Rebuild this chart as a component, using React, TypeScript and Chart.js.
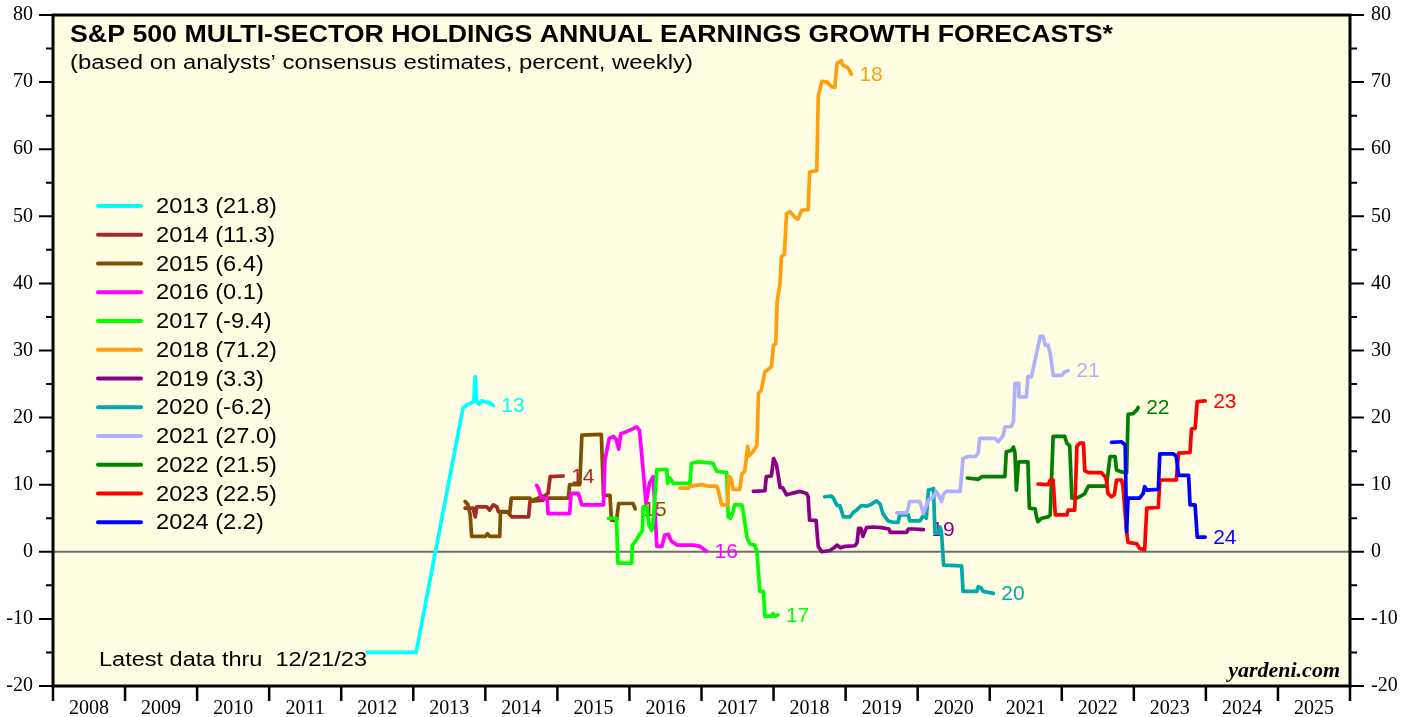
import React, { useEffect, useRef } from 'react';
import { Chart, registerables } from 'chart.js';

Chart.register(...registerables);

// ---------- data ----------
const yearLabels = ['2008', '2009', '2010', '2011', '2012', '2013', '2014', '2015', '2016', '2017', '2018', '2019', '2020', '2021', '2022', '2023', '2024', '2025'];
const yMajorTicks = [-20, -10, 0, 10, 20, 30, 40, 50, 60, 70, 80];
const yMinorTicks = [-15, -5, 5, 15, 25, 35, 45, 55, 65, 75];

const seriesNames = ['2013', '2014', '2015', '2016', '2017', '2018', '2019', '2020', '2021', '2022', '2023', '2024'];
const seriesLatest = [21.8, 11.3, 6.4, 0.1, -9.4, 71.2, 3.3, -6.2, 27.0, 21.5, 22.5, 2.2];
const seriesColors = ['#00FFFF', '#A52A2A', '#805000', '#FF00FF', '#00FF00', '#FF9F10', '#8B008B', '#00AAAA', '#B0B0FF', '#008000', '#FF0000', '#0000FF'];

const f2013 = [[2012.36, -15], [2013.04, -15], [2013.69, 21.4], [2013.74, 21.9], [2013.79, 22.1], [2013.84, 22.4], [2013.86, 26.1], [2013.88, 22.4], [2013.91, 22.0], [2013.95, 22.5], [2014.02, 22.3], [2014.06, 22.2], [2014.11, 21.8]];
const f2014 = [[2013.72, 6.5], [2013.83, 6.5], [2013.86, 5.2], [2013.88, 6.7], [2014.02, 6.7], [2014.06, 6.2], [2014.11, 7.0], [2014.16, 6.7], [2014.18, 6.0], [2014.30, 6.0], [2014.37, 5.2], [2014.60, 5.2], [2014.62, 7.5], [2014.80, 7.7], [2014.83, 8.4], [2014.87, 8.7], [2014.90, 11.2], [2015.08, 11.3]];
const f2015 = [[2013.72, 7.5], [2013.76, 7.0], [2013.79, 5.5], [2013.81, 2.3], [2014.00, 2.3], [2014.03, 2.7], [2014.06, 2.3], [2014.20, 2.3], [2014.21, 5.9], [2014.34, 5.9], [2014.36, 8.0], [2014.62, 8.0], [2014.64, 7.6], [2014.80, 8.3], [2014.85, 8.0], [2015.15, 8.0], [2015.17, 10.0], [2015.31, 10.0], [2015.34, 17.4], [2015.61, 17.5], [2015.64, 8.4], [2015.73, 8.4], [2015.75, 4.7], [2015.82, 4.6], [2015.85, 7.2], [2016.05, 7.2], [2016.08, 6.4]];
const f2016 = [[2014.71, 9.9], [2014.74, 9.4], [2014.77, 8.2], [2014.86, 7.8], [2014.87, 5.7], [2015.17, 5.7], [2015.19, 8.7], [2015.29, 8.7], [2015.34, 7.0], [2015.64, 7.0], [2015.66, 13.7], [2015.72, 16.9], [2015.78, 17.2], [2015.82, 16.7], [2015.85, 15.3], [2015.88, 17.6], [2015.96, 17.9], [2016.06, 18.4], [2016.10, 18.6], [2016.14, 18.1], [2016.19, 12.2], [2016.23, 7.2], [2016.28, 10.3], [2016.33, 11.2], [2016.36, 5.0], [2016.38, 0.8], [2016.45, 0.8], [2016.49, 2.5], [2016.54, 2.6], [2016.58, 1.6], [2016.66, 1.0], [2016.89, 1.0], [2016.98, 0.8], [2017.07, 0.1]];
const f2017 = [[2015.71, 5.0], [2015.82, 5.0], [2015.84, -1.7], [2016.03, -1.7], [2016.04, 1.0], [2016.08, 1.5], [2016.12, 2.2], [2016.15, 2.7], [2016.18, 3.2], [2016.19, 6.7], [2016.24, 6.7], [2016.27, 4.0], [2016.31, 3.2], [2016.33, 4.5], [2016.38, 12.2], [2016.52, 12.3], [2016.53, 10.2], [2016.56, 11.0], [2016.61, 10.2], [2016.84, 10.2], [2016.86, 13.2], [2016.96, 13.4], [2017.16, 13.2], [2017.21, 12.0], [2017.35, 11.8], [2017.37, 5.2], [2017.40, 5.0], [2017.44, 6.0], [2017.46, 7.0], [2017.56, 7.0], [2017.58, 6.0], [2017.63, 2.2], [2017.67, 1.2], [2017.74, 1.0], [2017.77, 0.0], [2017.81, -5.9], [2017.86, -5.9], [2017.88, -9.6], [2017.97, -9.6], [2017.99, -9.2], [2018.02, -9.6], [2018.06, -9.4]];
const f2018 = [[2016.70, 9.5], [2016.82, 9.5], [2016.84, 9.8], [2017.02, 10.0], [2017.08, 9.8], [2017.21, 9.8], [2017.23, 9.3], [2017.28, 7.0], [2017.36, 7.0], [2017.38, 11.2], [2017.41, 11.0], [2017.44, 9.3], [2017.53, 9.3], [2017.56, 11.6], [2017.60, 12.0], [2017.64, 15.7], [2017.66, 14.3], [2017.72, 15.0], [2017.77, 15.9], [2017.79, 23.6], [2017.83, 24.1], [2017.88, 26.8], [2017.97, 27.6], [2018.00, 30.8], [2018.03, 31.0], [2018.05, 37.3], [2018.09, 40.0], [2018.11, 44.0], [2018.15, 44.3], [2018.18, 50.4], [2018.23, 50.7], [2018.30, 49.8], [2018.34, 49.6], [2018.39, 50.9], [2018.48, 51.0], [2018.50, 56.6], [2018.60, 56.8], [2018.62, 67.8], [2018.67, 70.1], [2018.74, 70.0], [2018.81, 69.3], [2018.85, 69.2], [2018.88, 72.8], [2018.94, 73.2], [2018.96, 72.5], [2019.01, 72.3], [2019.04, 72.0], [2019.08, 71.2]];
const f2019 = [[2017.72, 9.0], [2017.88, 9.1], [2017.90, 11.2], [2017.97, 11.3], [2018.00, 13.9], [2018.04, 13.0], [2018.07, 11.1], [2018.09, 9.6], [2018.13, 9.5], [2018.18, 8.5], [2018.25, 8.7], [2018.37, 9.0], [2018.46, 8.7], [2018.48, 8.2], [2018.50, 4.7], [2018.59, 4.7], [2018.62, 0.8], [2018.67, 0.0], [2018.78, 0.2], [2018.84, 0.6], [2018.88, 1.0], [2018.93, 0.6], [2018.99, 0.8], [2019.13, 0.9], [2019.16, 1.4], [2019.18, 3.5], [2019.21, 3.5], [2019.24, 2.3], [2019.29, 3.6], [2019.38, 3.7], [2019.50, 3.6], [2019.60, 3.4], [2019.62, 2.9], [2019.85, 2.9], [2019.87, 3.4], [2019.95, 3.4], [2020.08, 3.3]];
const f2020 = [[2018.71, 8.2], [2018.80, 8.3], [2018.83, 8.0], [2018.88, 6.9], [2018.92, 6.9], [2018.94, 6.2], [2018.97, 5.2], [2019.06, 5.2], [2019.11, 5.9], [2019.15, 6.2], [2019.22, 6.9], [2019.29, 6.8], [2019.36, 7.1], [2019.43, 7.6], [2019.48, 7.1], [2019.52, 5.6], [2019.59, 4.6], [2019.66, 4.4], [2019.73, 4.4], [2019.75, 5.5], [2019.87, 5.5], [2019.89, 4.6], [2020.03, 4.6], [2020.08, 5.4], [2020.12, 5.0], [2020.15, 9.2], [2020.22, 9.4], [2020.24, 2.8], [2020.29, 2.8], [2020.31, 3.7], [2020.33, 3.0], [2020.36, -2.0], [2020.61, -2.1], [2020.63, -5.9], [2020.82, -5.9], [2020.84, -5.2], [2020.88, -5.4], [2020.91, -5.9], [2021.05, -6.2]];
const f2021 = [[2019.71, 5.8], [2019.85, 5.8], [2019.89, 7.5], [2020.03, 7.5], [2020.08, 5.7], [2020.15, 7.7], [2020.20, 8.0], [2020.24, 8.6], [2020.26, 9.0], [2020.31, 8.0], [2020.33, 7.5], [2020.36, 8.6], [2020.40, 9.0], [2020.59, 9.0], [2020.63, 13.9], [2020.70, 14.2], [2020.80, 14.2], [2020.84, 14.7], [2020.86, 16.9], [2021.07, 16.9], [2021.12, 16.4], [2021.19, 17.4], [2021.21, 18.6], [2021.30, 18.7], [2021.33, 19.5], [2021.35, 25.1], [2021.40, 25.1], [2021.405, 23.1], [2021.51, 23.1], [2021.53, 26.1], [2021.58, 26.1], [2021.63, 28.6], [2021.67, 30.6], [2021.70, 32.1], [2021.74, 32.1], [2021.77, 30.8], [2021.81, 30.8], [2021.84, 29.6], [2021.88, 26.3], [2022.00, 26.3], [2022.04, 26.8], [2022.09, 27.0]];
const f2022 = [[2020.69, 11.0], [2020.84, 10.8], [2020.89, 11.2], [2021.21, 11.2], [2021.23, 14.9], [2021.30, 15.1], [2021.33, 15.6], [2021.35, 14.8], [2021.37, 9.2], [2021.40, 13.4], [2021.53, 13.4], [2021.55, 6.5], [2021.63, 6.4], [2021.65, 5.2], [2021.67, 4.5], [2021.72, 5.0], [2021.81, 5.2], [2021.84, 5.5], [2021.88, 17.2], [2022.04, 17.2], [2022.07, 16.2], [2022.11, 15.8], [2022.14, 8.0], [2022.21, 8.0], [2022.28, 8.4], [2022.32, 8.7], [2022.37, 9.8], [2022.62, 9.8], [2022.67, 14.2], [2022.74, 14.2], [2022.76, 12.2], [2022.83, 11.9], [2022.90, 11.8], [2022.92, 20.5], [2022.99, 20.6], [2023.04, 21.1], [2023.06, 21.5]];
const f2023 = [[2021.67, 10.1], [2021.81, 10.0], [2021.84, 10.7], [2021.88, 10.7], [2021.91, 5.5], [2022.07, 5.5], [2022.09, 6.2], [2022.18, 6.2], [2022.21, 15.7], [2022.25, 16.2], [2022.30, 16.2], [2022.32, 12.1], [2022.37, 11.8], [2022.55, 11.8], [2022.60, 11.2], [2022.62, 10.7], [2022.64, 8.7], [2022.69, 8.2], [2022.73, 8.5], [2022.76, 10.7], [2022.83, 10.7], [2022.85, 9.7], [2022.90, 3.0], [2022.92, 1.4], [2023.04, 1.2], [2023.08, 0.5], [2023.15, 0.3], [2023.18, 6.5], [2023.34, 6.6], [2023.36, 10.5], [2023.39, 10.7], [2023.59, 10.7], [2023.62, 14.7], [2023.78, 14.8], [2023.80, 18.3], [2023.85, 18.4], [2023.88, 22.4], [2023.99, 22.5]];
const f2024 = [[2022.69, 16.3], [2022.83, 16.4], [2022.88, 15.9], [2022.90, 3.0], [2022.92, 8.0], [2023.08, 8.0], [2023.13, 8.7], [2023.15, 9.7], [2023.18, 9.2], [2023.34, 9.3], [2023.36, 14.6], [2023.55, 14.6], [2023.59, 14.2], [2023.62, 11.4], [2023.76, 11.4], [2023.78, 7.0], [2023.85, 7.0], [2023.88, 2.2], [2023.99, 2.2]];

const seriesData = [f2013, f2014, f2015, f2016, f2017, f2018, f2019, f2020, f2021, f2022, f2023, f2024];

const titleText = 'S&P 500 MULTI-SECTOR HOLDINGS ANNUAL EARNINGS GROWTH FORECASTS*';
const subtitleText = '(based on analysts’ consensus estimates, percent, weekly)';
const noteText = 'Latest data thru  12/21/23';
const sourceText = 'yardeni.com';

// ---------- styles ----------
const CREAM = '#FFFEE2';
const SANS = '"Liberation Sans", Arial, sans-serif';
const SERIF = '"Liberation Serif", "Times New Roman", serif';

function fitText(ctx: CanvasRenderingContext2D, text: string, x: number, y: number, font: string, width?: number, align: 'left' | 'right' = 'left') {
  ctx.font = font;
  const w = ctx.measureText(text).width;
  const sx = width ? width / w : 1;
  ctx.save();
  ctx.translate(x, y);
  ctx.scale(sx, 1);
  ctx.textAlign = 'left';
  ctx.fillText(text, align === 'right' ? -w : 0, 0);
  ctx.restore();
}

const decoPlugin = {
  id: 'deco',
  beforeDraw(chart: any) {
    const { ctx, chartArea: a } = chart;
    ctx.save();
    ctx.fillStyle = '#FFFFFF';
    ctx.fillRect(0, 0, chart.width, chart.height);
    ctx.fillStyle = CREAM;
    ctx.fillRect(a.left, a.top, a.right - a.left, a.bottom - a.top);
    ctx.restore();
  },
  beforeDatasetsDraw(chart: any) {
    const { ctx, chartArea: a, scales } = chart;
    const xs = scales.x;
    const ys = scales.y;
    ctx.save();
    // zero line
    const y0 = ys.getPixelForValue(0);
    ctx.strokeStyle = '#6E6E6E';
    ctx.lineWidth = 2;
    ctx.beginPath();
    ctx.moveTo(a.left, y0);
    ctx.lineTo(a.right, y0);
    ctx.stroke();
    // end labels
    ctx.font = '21px ' + SANS;
    ctx.textBaseline = 'middle';
    ctx.textAlign = 'left';
    seriesData.forEach((d, i) => {
      const last = d[d.length - 1];
      ctx.fillStyle = seriesColors[i];
      ctx.fillText(seriesNames[i].slice(2), xs.getPixelForValue(last[0]) + 8, ys.getPixelForValue(last[1]) + 1);
    });
    ctx.restore();
  },
  afterDraw(chart: any) {
    const { ctx, chartArea: a, scales } = chart;
    const xs = scales.x;
    const ys = scales.y;
    const yr = scales.y2;
    ctx.save();
    ctx.strokeStyle = '#000';
    ctx.fillStyle = '#000';
    ctx.lineCap = 'butt';
    // frame
    ctx.lineWidth = 3;
    ctx.strokeRect(a.left, a.top, a.right - a.left, a.bottom - a.top);
    // y ticks
    ctx.lineWidth = 2;
    ctx.beginPath();
    yMajorTicks.forEach((v) => {
      const y = ys.getPixelForValue(v);
      ctx.moveTo(a.left - 14, y); ctx.lineTo(a.left, y);
      const y2 = yr.getPixelForValue(v);
      ctx.moveTo(a.right, y2); ctx.lineTo(a.right + 14, y2);
    });
    yMinorTicks.forEach((v) => {
      const y = ys.getPixelForValue(v);
      ctx.moveTo(a.left - 7, y); ctx.lineTo(a.left, y);
      const y2 = yr.getPixelForValue(v);
      ctx.moveTo(a.right, y2); ctx.lineTo(a.right + 7, y2);
    });
    ctx.stroke();
    // x ticks
    ctx.lineWidth = 2.5;
    ctx.beginPath();
    for (let i = 0; i <= yearLabels.length; i++) {
      const x = xs.getPixelForValue(Number(yearLabels[0]) + i);
      ctx.moveTo(x, a.bottom); ctx.lineTo(x, a.bottom + 15);
    }
    ctx.stroke();
    // y tick labels
    ctx.font = '20px ' + SERIF;
    ctx.textBaseline = 'middle';
    yMajorTicks.forEach((v) => {
      ctx.textAlign = 'right';
      ctx.fillText(String(v), a.left - 20, ys.getPixelForValue(v));
      ctx.textAlign = 'left';
      ctx.fillText(String(v), a.right + 21, yr.getPixelForValue(v));
    });
    // x labels
    ctx.textAlign = 'center';
    ctx.textBaseline = 'alphabetic';
    yearLabels.forEach((lab) => {
      const x = xs.getPixelForValue(Number(lab) + 0.5);
      ctx.fillText(lab, x, a.bottom + 28);
    });
    // title & subtitle
    ctx.fillStyle = '#000';
    fitText(ctx, titleText, a.left + 17, a.top + 27, 'bold 23px ' + SANS, 1043);
    fitText(ctx, subtitleText, a.left + 17, a.top + 54, '20px ' + SANS, 623);
    // legend
    ctx.font = '22px ' + SANS;
    const legSx = 121 / ctx.measureText('2013 (21.8)').width;
    seriesNames.forEach((n, i) => {
      const y = 206 + i * 28.75;
      ctx.strokeStyle = seriesColors[i];
      ctx.lineWidth = 4;
      ctx.lineCap = 'round';
      ctx.beginPath();
      ctx.moveTo(98, y); ctx.lineTo(141, y);
      ctx.stroke();
      ctx.fillStyle = '#000';
      ctx.textBaseline = 'middle';
      const label = n + ' (' + seriesLatest[i].toFixed(1) + ')';
      ctx.font = '22px ' + SANS;
      const w = ctx.measureText(label).width;
      fitText(ctx, label, 156, y + 1, '22px ' + SANS, w * legSx);
    });
    // note & source
    ctx.textBaseline = 'alphabetic';
    fitText(ctx, noteText, 99, 666, '20px ' + SANS, 268);
    ctx.font = 'italic bold 22px ' + SERIF;
    ctx.textAlign = 'right';
    ctx.fillText(sourceText, a.right - 10, a.bottom - 9);
    ctx.restore();
  },
};

export default function App() {
  const ref = useRef<HTMLCanvasElement>(null);
  useEffect(() => {
    if (!ref.current) return;
    const n = seriesData.length;
    const chart = new Chart(ref.current, {
      type: 'line',
      data: {
        datasets: seriesData.map((d, i) => ({
          label: seriesNames[i],
          data: d.map((p) => ({ x: p[0], y: p[1] })),
          borderColor: seriesColors[i],
          backgroundColor: seriesColors[i],
          borderWidth: 3.7,
          pointRadius: 0,
          pointHoverRadius: 0,
          tension: 0,
          fill: false,
          borderJoinStyle: 'round' as const,
          borderCapStyle: 'round' as const,
          order: n - i,
        })),
      },
      options: {
        responsive: false,
        maintainAspectRatio: false,
        animation: false,
        devicePixelRatio: 1,
        layout: { padding: { top: 15, left: 0, right: 0, bottom: 0 } },
        plugins: { legend: { display: false }, tooltip: { enabled: false }, title: { display: false } },
        events: [],
        scales: {
          x: {
            type: 'linear', min: 2008, max: 2026,
            grid: { display: false }, border: { display: false }, ticks: { display: false },
            afterFit: (s: any) => { s.height = 31; },
          },
          y: {
            type: 'linear', position: 'left', min: -20, max: 80,
            grid: { display: false }, border: { display: false }, ticks: { display: false },
            afterFit: (s: any) => { s.width = 53; },
          },
          y2: {
            type: 'linear', position: 'right', min: -20, max: 80,
            grid: { display: false }, border: { display: false }, ticks: { display: false },
            afterFit: (s: any) => { s.width = 66; },
          },
        },
      } as any,
      plugins: [decoPlugin],
    });
    return () => chart.destroy();
  }, []);
  return (
    <div style={{ position: 'absolute', left: 0, top: 0, width: 1416, height: 717, overflow: 'hidden', background: '#fff' }}>
      <canvas ref={ref} width={1416} height={717} style={{ display: 'block', width: 1416, height: 717 }} />
    </div>
  );
}
